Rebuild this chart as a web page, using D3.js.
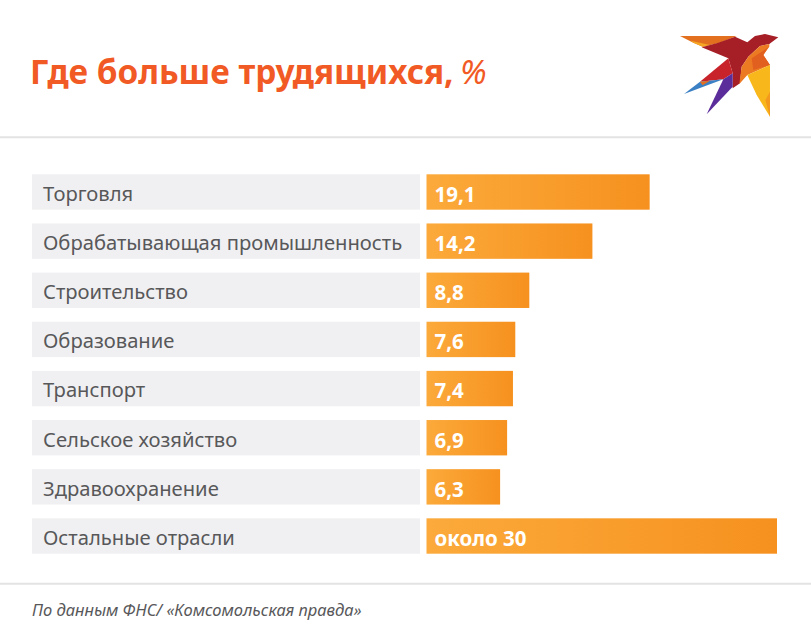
<!DOCTYPE html>
<html>
<head>
<meta charset="utf-8">
<script src="https://d3js.org/d3.v7.min.js"></script>
<style>
html, body { margin: 0; padding: 0; background: #fff; }
svg { display: block; }
text { font-family: "Noto Sans", sans-serif; }
</style>
</head>
<body>
<div id="chart"></div>
<script>
// data
var categories = ["Торговля", "Обрабатывающая промышленность", "Строительство", "Образование",
    "Транспорт", "Сельское хозяйство", "Здравоохранение", "Остальные отрасли"];
var values = [19.1, 14.2, 8.8, 7.6, 7.4, 6.9, 6.3, 30];
var valueLabels = ["19,1", "14,2", "8,8", "7,6", "7,4", "6,9", "6,3", "около 30"];

var width = 811;
var height = 640;

var svg = d3.select("#chart")
    .append("svg")
    .attr("width", width)
    .attr("height", height);

// bar gradient, light on the left
var grad = svg.append("defs").append("linearGradient")
    .attr("id", "barFill");
grad.append("stop").attr("offset", "0%").attr("stop-color", "#fbaa3b");
grad.append("stop").attr("offset", "100%").attr("stop-color", "#f6911f");

var xScale = d3.scaleLinear()
    .domain([0, 30])
    .range([426.5, 777]);

var yScale = d3.scaleBand()
    .domain(categories)
    .range([174.3, 553.7])
    .paddingInner(0.28);

// title
svg.append("text")
    .attr("x", 30)
    .attr("y", 84)
    .attr("fill", "#f15a24")
    .style("font-size", "33.3px")
    .style("font-weight", "700")
    .text("Где больше трудящихся,");
svg.append("text")
    .attr("x", 460)
    .attr("y", 84)
    .attr("fill", "#f15a24")
    .style("font-size", "33.3px")
    .style("font-style", "italic")
    .text("%");

// rules
svg.selectAll("line.rule")
    .data([137.3, 583.7])
    .enter()
    .append("line")
    .attr("class", "rule")
    .attr("x1", 0)
    .attr("x2", width)
    .attr("y1", function(d) { return d; })
    .attr("y2", function(d) { return d; })
    .attr("stroke", "#e3e3e3")
    .attr("stroke-width", 2);

// logo, coordinates in 3x crop space
var logoShapes = [
    ["#e2701f", "60,48 230,48 180,68 128,80 100,68"],
    ["#f5a623", "92,62 150,75 128,80 100,68"],
    ["#a61e26", "125,82 175,68 225,50 262,67 285,48 315,42 355,52 328,72 300,78 265,110 245,140 240,190 218,205 218,160 205,115"],
    ["#c8232a", "205,115 218,160 190,178 120,185"],
    ["#3b7fc4", "120,185 190,178 72,222"],
    ["#e2701f", "120,185 150,182 128,196"],
    ["#5b2d9a", "190,178 218,160 218,200 140,283"],
    ["#ec7a22", "328,72 300,78 265,110 245,140 238,192 262,165 330,135 310,105 328,80"],
    ["#e2601f", "325,82 310,105 330,135 280,150 275,115"],
    ["#f8b81c", "262,165 330,135 330,290 290,225"],
    ["#f39a1e", "316,240 330,215 330,290"]
];
svg.append("g")
    .attr("transform", "translate(660,20) scale(0.3333)")
    .selectAll("polygon")
    .data(logoShapes)
    .enter()
    .append("polygon")
    .attr("fill", function(d) { return d[0]; })
    .attr("points", function(d) { return d[1]; });

// rows
var rows = svg.selectAll("g.row")
    .data(categories)
    .enter()
    .append("g")
    .attr("class", "row")
    .attr("transform", function(d) { return "translate(0," + yScale(d) + ")"; });

rows.append("rect")
    .attr("x", 32)
    .attr("width", 388)
    .attr("height", yScale.bandwidth())
    .attr("fill", "#f0f0f2");

rows.append("text")
    .attr("x", 43)
    .attr("y", 26.5)
    .attr("fill", "#58585a")
    .style("font-size", "20.2px")
    .text(function(d) { return d; });

rows.append("rect")
    .attr("x", xScale(0))
    .attr("width", function(d, i) { return xScale(values[i]) - xScale(0); })
    .attr("height", yScale.bandwidth())
    .attr("fill", "url(#barFill)");

rows.append("text")
    .attr("x", 434.5)
    .attr("y", 27.5)
    .attr("fill", "#fff")
    .style("font-size", "20.5px")
    .style("font-weight", "700")
    .text(function(d, i) { return valueLabels[i]; });

// source
svg.append("text")
    .attr("x", 32)
    .attr("y", 616)
    .attr("fill", "#58585a")
    .style("font-size", "16.5px")
    .style("font-style", "italic")
    .text("По данным ФНС/ «Комсомольская правда»");
</script>
</body>
</html>
